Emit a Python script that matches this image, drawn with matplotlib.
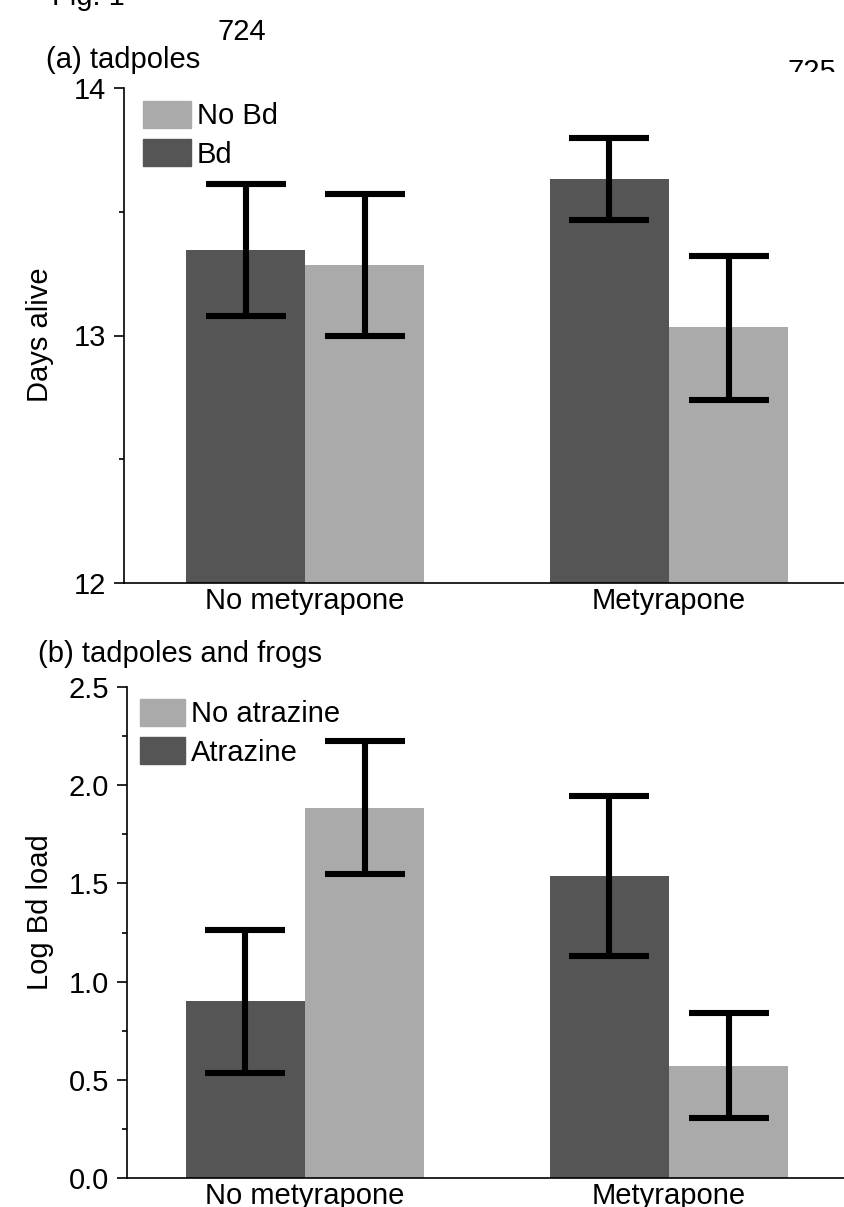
import numpy as np
import matplotlib
matplotlib.use('Agg')
import matplotlib.pyplot as plt
from matplotlib.patches import Patch

plt.rcParams['font.family'] = ['Liberation Sans', 'DejaVu Sans']

# data
groups = ['No metyrapone', 'Metyrapone']

# (a) tadpoles - days alive
days_bd = [13.345, 13.634]
days_bd_lo = [13.077, 13.468]
days_bd_hi = [13.613, 13.799]
days_nobd = [13.286, 13.033]
days_nobd_lo = [13.0, 12.739]
days_nobd_hi = [13.571, 13.322]

# (b) tadpoles and frogs - log Bd load
load_atr = [0.901, 1.539]
load_atr_lo = [0.537, 1.131]
load_atr_hi = [1.262, 1.943]
load_noatr = [1.885, 0.570]
load_noatr_lo = [1.550, 0.304]
load_noatr_hi = [2.223, 0.839]

DARK = '#555555'
LIGHT = '#aaaaaa'
FS = 21

W, H = 845, 1207
fig = plt.figure(figsize=(W/100, H/100), dpi=100)


def px(x0, y0, x1, y1):
    # pixel box (top-left origin) -> figure rect
    return [x0/W, 1 - y1/H, (x1-x0)/W, (y1-y0)/H]


def panel(ax, y_dark, lo_dark, hi_dark, y_light, lo_light, hi_light,
          ymin, ymax, major, minor, labels):
    x = np.arange(len(groups))
    w = 0.327
    off = w/2
    ax.bar(x - off, y_dark, w, color=DARK, zorder=1)
    ax.bar(x + off, y_light, w, color=LIGHT, zorder=1)
    for xs, y, lo, hi in [(x - off, y_dark, lo_dark, hi_dark),
                          (x + off, y_light, lo_light, hi_light)]:
        y = np.array(y)
        err = [y - np.array(lo), np.array(hi) - y]
        ax.errorbar(xs, y, yerr=err, fmt='none', ecolor='black',
                    elinewidth=4.4, capsize=28.5, capthick=4.4, zorder=3)
    ax.spines['top'].set_visible(False)
    ax.spines['right'].set_visible(False)
    ax.spines['left'].set_bounds(ymin, ymax)
    for s in ['left', 'bottom']:
        ax.spines[s].set_linewidth(1.2)
    ax.set_yticks(major)
    ax.set_yticklabels(labels)
    ax.set_yticks(minor, minor=True)
    ax.tick_params(axis='y', which='major', length=7.2, width=1.2, pad=5.5,
                   labelsize=FS)
    ax.tick_params(axis='y', which='minor', length=3.6, width=1.2)
    ax.set_xticks(x)
    ax.set_xticklabels(groups)
    ax.tick_params(axis='x', length=0, pad=3, labelsize=FS)


# panel a
ax1 = fig.add_axes(px(124, 72, 845, 583))
panel(ax1, days_bd, days_bd_lo, days_bd_hi,
      days_nobd, days_nobd_lo, days_nobd_hi,
      12, 14, [12, 13, 14], [12.5, 13.5], ['12', '13', '14'])
ax1.set_ylim(12, 14 + 16/247.5)
ax1.set_xlim(-0.4973, 1.4835)
h1 = [Patch(color=LIGHT), Patch(color=DARK)]
ax1.legend(h1, ['No Bd', 'Bd'], loc='upper left',
           bbox_to_anchor=((143-124)/721, 1 - (101-72)/511),
           frameon=False, fontsize=FS, handlelength=1.65, handleheight=1.05,
           handletextpad=0.2, labelspacing=0.3, borderpad=0, borderaxespad=0)

# panel b
ax2 = fig.add_axes(px(127, 687, 845, 1178))
panel(ax2, load_atr, load_atr_lo, load_atr_hi,
      load_noatr, load_noatr_lo, load_noatr_hi,
      0, 2.5, [0, 0.5, 1.0, 1.5, 2.0, 2.5], [0.25, 0.75, 1.25, 1.75, 2.25],
      ['0.0', '0.5', '1.0', '1.5', '2.0', '2.5'])
ax2.set_ylim(0, 2.5)
ax2.set_xlim(-0.489, 1.4835)
h2 = [Patch(color=LIGHT), Patch(color=DARK)]
ax2.legend(h2, ['No atrazine', 'Atrazine'], loc='upper left',
           bbox_to_anchor=((140-127)/718, 1 - (699-687)/491),
           frameon=False, fontsize=FS, handlelength=1.55, handleheight=1.05,
           handletextpad=0.2, labelspacing=0.3, borderpad=0, borderaxespad=0)

# labels and stray page text
fig.text(40/W, 1 - 335/H, 'Days alive', rotation=90, ha='center',
         va='center', fontsize=FS)
fig.text(40/W, 1 - 912/H, 'Log Bd load', rotation=90, ha='center',
         va='center', fontsize=FS)
fig.text(46/W, 1 - 68/H, '(a) tadpoles', ha='left', va='baseline', fontsize=FS)
fig.text(38/W, 1 - 662/H, '(b) tadpoles and frogs', ha='left',
         va='baseline', fontsize=FS)
fig.text(242/W, 1 - 40/H, '724', ha='center', va='baseline', fontsize=FS)
fig.text(812/W, 1 - 80/H, '725', ha='center', va='baseline', fontsize=FS,
         zorder=-1)
fig.text(52/W, 1 - 5/H, 'Fig. 1', ha='left', va='baseline', fontsize=FS)

fig.savefig('out.png', dpi=100)
